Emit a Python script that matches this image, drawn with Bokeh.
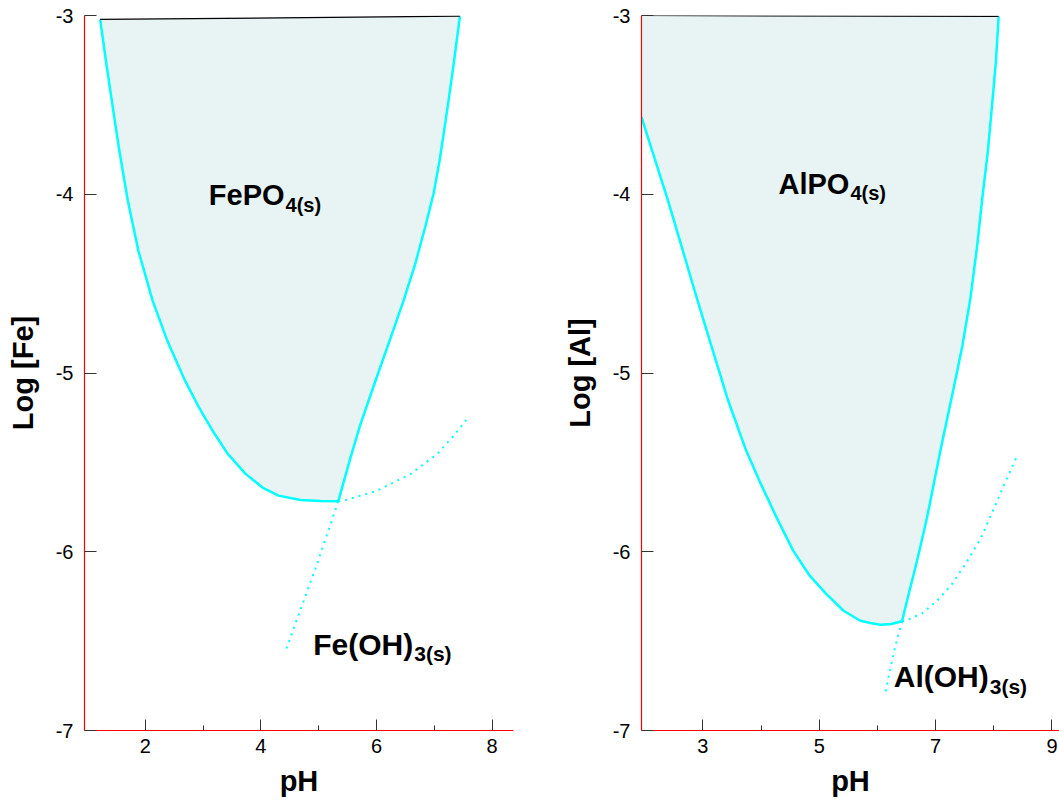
from bokeh.plotting import figure
from bokeh.models import Label, FixedTicker, Range1d
from bokeh.layouts import row
from bokeh.embed import file_html
from bokeh.resources import INLINE

# ---------------- data: Fe panel ----------------
fe_left_ph = [1.221, 1.320, 1.422, 1.552, 1.699, 1.881, 2.128, 2.382, 2.689, 2.912,
              3.164, 3.424, 3.732, 4.029, 4.306, 4.687, 5.033, 5.339]
fe_left_log = [-3.022, -3.252, -3.476, -3.755, -4.035, -4.315, -4.595, -4.819, -5.043, -5.182,
               -5.322, -5.451, -5.563, -5.641, -5.686, -5.710, -5.716, -5.718]
fe_right_ph = [5.339, 5.552, 5.725, 5.985, 6.227, 6.469, 6.677, 6.850, 6.988, 7.092,
               7.178, 7.247, 7.343, 7.443]
fe_right_log = [-5.718, -5.472, -5.285, -5.042, -4.819, -4.595, -4.382, -4.175, -3.996, -3.811,
                -3.627, -3.476, -3.252, -3.004]
fe_oh_a_ph = [5.339, 5.436, 6.014, 6.590, 7.052, 7.339, 7.599]
fe_oh_a_log = [-5.718, -5.714, -5.658, -5.565, -5.453, -5.350, -5.244]
fe_oh_b_ph = [5.339, 4.965, 4.439]
fe_oh_b_log = [-5.718, -6.075, -6.545]

# ---------------- data: Al panel ----------------
al_top_ph = [1.945, 8.084]
al_top_log = [-3.000, -3.005]
al_left_ph = [1.945, 2.401, 2.909, 3.434, 3.744, 3.985, 4.268, 4.552, 4.836, 5.120,
              5.418, 5.706, 5.878, 6.050, 6.239, 6.423]
al_left_log = [-3.569, -4.035, -4.595, -5.154, -5.434, -5.613, -5.809, -5.994, -6.134, -6.236,
               -6.330, -6.386, -6.399, -6.408, -6.404, -6.389]
al_right_ph = [6.423, 6.509, 6.682, 6.854, 7.083, 7.306, 7.461, 7.599, 7.711, 7.806,
               7.900, 7.978, 8.038, 8.084]
al_right_log = [-6.389, -6.274, -6.050, -5.807, -5.434, -5.092, -4.847, -4.581, -4.298, -4.013,
                -3.755, -3.476, -3.252, -3.005]
al_oh_a_ph = [6.423, 6.509, 6.769, 7.027, 7.285, 7.515, 7.773, 7.974, 8.146, 8.384]
al_oh_a_log = [-6.389, -6.382, -6.345, -6.274, -6.180, -6.068, -5.928, -5.779, -5.649, -5.475]
al_oh_b_ph = [6.423, 6.296, 6.127]
al_oh_b_log = [-6.389, -6.544, -6.800]

# ticks
fe_x_ticks = [2, 4, 6, 8]
fe_x_minor = [3, 5, 7]
al_x_ticks = [3, 5, 7, 9]
al_x_minor = [4, 6, 8]
y_ticks = [-7, -6, -5, -4, -3]

FONT = "Liberation Sans"
CYAN = "#00ffff"
FILL = "#e7f4f3"

# bold advance widths (em) used to put a subscript right after its formula
ADV = {"F": 0.611, "e": 0.556, "P": 0.667, "O": 0.778, "(": 0.333, "H": 0.722,
       ")": 0.333, "A": 0.722, "l": 0.278}


def make_fig(width, xr, border_left, border_right, xt, xm, ylab):
    p = figure(width=width, height=801, x_range=Range1d(*xr), y_range=Range1d(-7, -3),
               output_backend="svg", toolbar_location=None,
               min_border_left=border_left, min_border_right=border_right,
               min_border_top=15, min_border_bottom=71)
    p.grid.visible = False
    p.outline_line_color = None
    p.background_fill_color = "white"
    p.border_fill_color = "white"
    p.xaxis.ticker = FixedTicker(ticks=xt, minor_ticks=xm)
    p.yaxis.ticker = FixedTicker(ticks=y_ticks)
    p.yaxis.major_label_overrides = {t: str(t) for t in y_ticks}
    p.xaxis.major_label_overrides = {t: str(t) for t in xt}
    for ax in (p.xaxis[0], p.yaxis[0]):
        ax.axis_line_color = "red"
        ax.axis_line_width = 1.2
        ax.major_tick_line_color = "#333333"
        ax.minor_tick_line_color = "#333333"
        ax.major_tick_out = 0
        ax.minor_tick_out = 0
        ax.major_label_text_font = FONT
        ax.major_label_text_font_size = "20px"
        ax.major_label_text_color = "black"
        ax.axis_label_text_font = FONT
        ax.axis_label_text_font_size = "29px"
        ax.axis_label_text_font_style = "bold"
        ax.axis_label_text_color = "black"
    p.xaxis.major_tick_in = 11
    p.xaxis.minor_tick_in = 5
    p.yaxis.major_tick_in = 12
    p.yaxis.minor_tick_line_color = None
    p.xaxis.major_label_standoff = 8
    p.yaxis.major_label_standoff = 11
    p.xaxis.axis_label_standoff = 9
    p.yaxis.axis_label_standoff = 14
    p.xaxis.axis_label = "pH"
    p.yaxis.axis_label = ylab
    return p


def formula(p, x, y, main, sub, size, sub_size, drop):
    p.add_layout(Label(x=x, y=y, text=main, text_font=FONT, text_font_style="bold",
                       text_font_size=f"{size}px", text_color="black",
                       text_align="left", text_baseline="alphabetic"))
    w = sum(ADV[c] for c in main) * size + 1
    p.add_layout(Label(x=x, y=y - drop, text=sub, x_offset=w, text_font=FONT,
                       text_font_style="bold", text_font_size=f"{sub_size}px",
                       text_color="black", text_align="left", text_baseline="alphabetic"))


# ---------------- Fe figure ----------------
p1 = make_fig(530, (0.95, 8.37), 84, 17, fe_x_ticks, fe_x_minor, "Log [Fe]")
p1.patch(fe_left_ph + fe_right_ph[1:], fe_left_log + fe_right_log[1:],
         fill_color=FILL, line_color=None)
p1.line(fe_oh_a_ph, fe_oh_a_log, line_color=CYAN, line_width=2, line_dash="2 5")
p1.line(fe_oh_b_ph, fe_oh_b_log, line_color=CYAN, line_width=2, line_dash="2 5")
p1.line(fe_left_ph, fe_left_log, line_color=CYAN, line_width=2.5, line_join="round")
p1.line(fe_right_ph, fe_right_log, line_color=CYAN, line_width=2.5, line_join="round")
p1.line([fe_left_ph[0], fe_right_ph[-1]], [fe_left_log[0], fe_right_log[-1]],
        line_color="black", line_width=1.2)
formula(p1, 3.100, -4.002, "FePO", "4(s)", 29, 20, 0.056)
formula(p1, 4.907, -6.517, "Fe(OH)", "3(s)", 30, 21, 0.05)

# ---------------- Al figure ----------------
p2 = make_fig(529, (1.945, 9.13), 111, 0, al_x_ticks, al_x_minor, "Log [Al]")
p2.patch([al_top_ph[0]] + al_left_ph + al_right_ph[1:],
         [al_top_log[0]] + al_left_log + al_right_log[1:],
         fill_color=FILL, line_color=None)
p2.line(al_oh_a_ph, al_oh_a_log, line_color=CYAN, line_width=2, line_dash="2 5")
p2.line(al_oh_b_ph, al_oh_b_log, line_color=CYAN, line_width=2, line_dash="2 5")
p2.line(al_left_ph, al_left_log, line_color=CYAN, line_width=2.5, line_join="round")
p2.line(al_right_ph, al_right_log, line_color=CYAN, line_width=2.5, line_join="round")
p2.line(al_top_ph, al_top_log, line_color="black", line_width=1.2)
formula(p2, 4.300, -3.942, "AlPO", "4(s)", 29, 20, 0.053)
formula(p2, 6.281, -6.697, "Al(OH)", "3(s)", 30, 21, 0.055)

layout = row(p1, p2)
open("out.html", "w").write(file_html(layout, INLINE))
